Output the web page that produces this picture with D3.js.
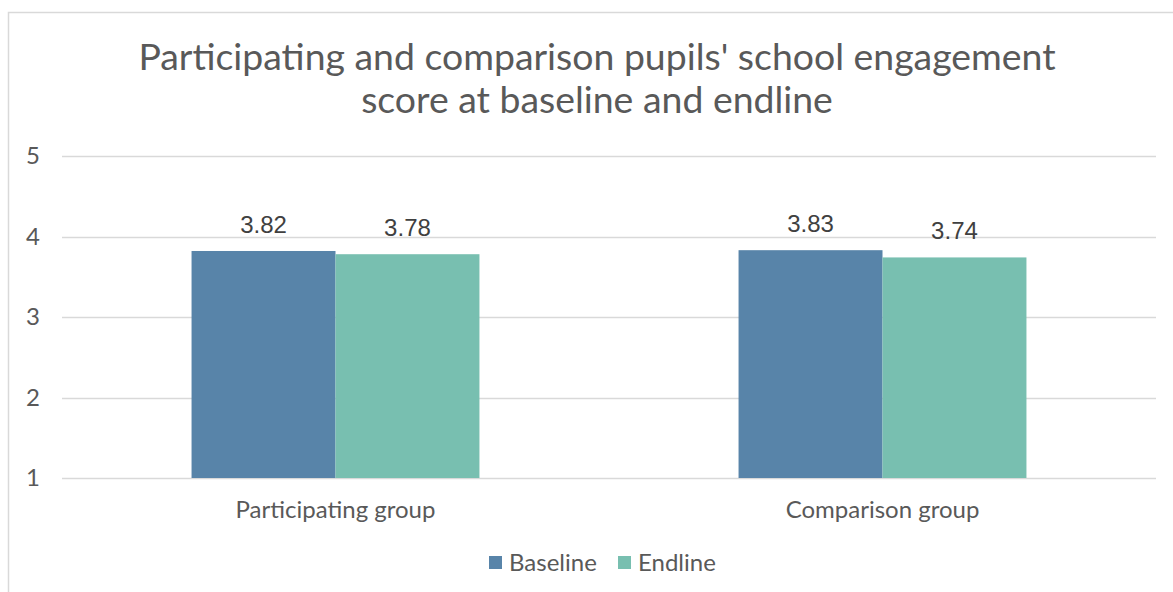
<!DOCTYPE html>
<html>
<head>
<meta charset="utf-8">
<script src="https://cdn.jsdelivr.net/npm/d3@7/dist/d3.min.js"></script>
<style>
  html, body { margin: 0; padding: 0; background: #fff; }
  svg { display: block; }
</style>
</head>
<body>
<svg id="chart" width="1173" height="592"></svg>
<script>
// Groups, series and values
const groups = ["Participating group", "Comparison group"];
const seriesNames = ["Baseline", "Endline"];
const baselineValues = [3.82, 3.83];
const endlineValues = [3.78, 3.74];
const seriesColors = ["#5884A9", "#78BFB0"];
const yTicks = [1, 2, 3, 4, 5];
const titleLines = ["Participating and comparison pupils' school engagement", "score at baseline and endline"];

const svg = d3.select("#chart");
const W = 1173, H = 592;
const margin = { left: 62, right: 17, top: 156, bottom: 114 };
const plotRight = W - margin.right;
const plotBottom = H - margin.bottom;

// chart frame
svg.append("rect")
  .attr("x", 8.5).attr("y", 12.5)
  .attr("width", 1200).attr("height", 700)
  .attr("fill", "#fff").attr("stroke", "#D9D9D9").attr("stroke-width", 1.5);

// title
svg.append("text")
  .attr("x", 597).attr("y", 70)
  .attr("text-anchor", "middle")
  .attr("font-family", "Lato")
  .attr("font-size", 37.4)
  .attr("fill", "#595959")
  .selectAll("tspan").data(titleLines).join("tspan")
  .attr("x", 597).attr("dy", (d, i) => i === 0 ? 0 : 43)
  .text(d => d);

const x0 = d3.scaleBand().domain(groups).range([margin.left, plotRight]);
const x1 = d3.scaleBand().domain(seriesNames).range([0, x0.bandwidth()]).paddingOuter(0.9).paddingInner(0);
const y = d3.scaleLinear().domain([1, 5]).range([plotBottom, margin.top]);

// gridlines
svg.append("g").selectAll("line").data(yTicks).join("line")
  .attr("x1", margin.left).attr("x2", plotRight)
  .attr("y1", d => Math.round(y(d)) + 0.5).attr("y2", d => Math.round(y(d)) + 0.5)
  .attr("stroke", "#D9D9D9").attr("stroke-width", 1.5);

// y tick labels
svg.append("g").selectAll("text").data(yTicks).join("text")
  .attr("x", 33).attr("y", d => y(d) + 8)
  .attr("text-anchor", "middle")
  .attr("font-family", "Lato").attr("font-size", 24)
  .attr("fill", "#595959")
  .text(d => d);

const rows = groups.map((g, i) => ({
  group: g,
  values: [
    { series: seriesNames[0], value: baselineValues[i], color: seriesColors[0] },
    { series: seriesNames[1], value: endlineValues[i], color: seriesColors[1] }
  ]
}));

const gGroups = svg.append("g").selectAll("g").data(rows).join("g")
  .attr("transform", d => `translate(${x0(d.group)},0)`);

gGroups.selectAll("rect").data(d => d.values).join("rect")
  .attr("x", d => x1(d.series))
  .attr("width", x1.bandwidth())
  .attr("y", d => y(d.value))
  .attr("height", d => y(1) - y(d.value))
  .attr("fill", d => d.color);

gGroups.selectAll("text.val").data(d => d.values).join("text")
  .attr("class", "val")
  .attr("x", d => x1(d.series) + x1.bandwidth() / 2)
  .attr("y", d => y(d.value) - 18)
  .attr("text-anchor", "middle")
  .attr("font-family", "Liberation Sans, Arial")
  .attr("font-size", 24)
  .attr("fill", "#404040")
  .text(d => d.value.toFixed(2));

// category labels
svg.append("g").selectAll("text").data(groups).join("text")
  .attr("x", d => x0(d) + x0.bandwidth() / 2)
  .attr("y", 518)
  .attr("text-anchor", "middle")
  .attr("font-family", "Lato").attr("font-size", 24)
  .attr("fill", "#595959")
  .text(d => d);

// legend
const legendX = [489, 618];
const legend = svg.append("g").selectAll("g").data(seriesNames).join("g")
  .attr("transform", (d, i) => `translate(${legendX[i]},556)`);
legend.append("rect").attr("width", 13).attr("height", 13)
  .attr("fill", (d, i) => seriesColors[i]);
legend.append("text").attr("x", 20).attr("y", 14.5)
  .attr("font-family", "Lato").attr("font-size", 24)
  .attr("fill", "#595959")
  .text(d => d);
</script>
</body>
</html>
